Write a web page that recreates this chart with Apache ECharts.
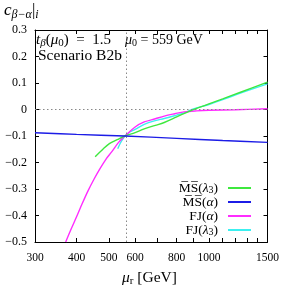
<!DOCTYPE html>
<html><head><meta charset="utf-8">
<script src="https://cdn.jsdelivr.net/npm/echarts@6/dist/echarts.min.js"></script>
<style>html,body{margin:0;padding:0;background:#fff}#c{width:282px;height:289px}</style>
</head><body><div id="c"></div>
<script>
// ---- data ----
const xTickValues = [300,400,500,600,700,800,900,1000,1100,1200,1300,1400,1500];
const xLabelValues = [300,400,500,600,800,1000,1500];
const xMin = 300, xMax = 1500;
const yMin = -0.5, yMax = 0.3, yStep = 0.1;
const mu0 = 559;

const muMSl3 = [455,480,502,530,559,600,639,690,734,800,883,1000,1100,1250,1500];
const cMSl3  = [-0.178,-0.150,-0.129,-0.114,-0.100,-0.087,-0.073,-0.060,-0.049,-0.028,-0.004,0.021,0.040,0.066,0.103];

const muMSa = [300,400,559,800,1100,1500];
const cMSa  = [-0.088,-0.094,-0.100,-0.109,-0.117,-0.124];

const muFJa = [371,385,400,416,433,450,469,490,510,535,559,600,639,690,734,790,842,920,1000,1200,1500];
const cFJa  = [-0.500,-0.452,-0.405,-0.355,-0.307,-0.266,-0.226,-0.188,-0.160,-0.124,-0.100,-0.066,-0.047,-0.035,-0.025,-0.016,-0.009,-0.005,-0.003,-0.001,0.003];

const muFJl3 = [532,540,548,559,580,600,639,690,734,800,842,889,1000,1100,1250,1500];
const cFJl3  = [-0.148,-0.130,-0.116,-0.100,-0.084,-0.075,-0.056,-0.042,-0.034,-0.021,-0.013,0.000,0.019,0.037,0.063,0.097];

// ---- helpers ----
// the x axis is logarithmic: the library's value scale is fed log10(mu)
const L = Math.log10;
const FONT = 'Liberation Serif';
const pairs = (xs, ys) => xs.map((x, i) => [L(x), ys[i]]);
function R(size, lh) {
  const base = {fontFamily: FONT, fontSize: size, lineHeight: lh, color: '#000', fill: '#000'};
  const sub = Math.round(size * 0.72);
  return {
    n: Object.assign({}, base),
    i: Object.assign({}, base, {fontStyle: 'italic'}),
    s: Object.assign({}, base, {fontSize: sub, lineHeight: Math.round(lh * 0.55), verticalAlign: 'bottom'}),
    si: Object.assign({}, base, {fontSize: sub, fontStyle: 'italic', lineHeight: Math.round(lh * 0.55), verticalAlign: 'bottom'})
  };
}
const legendNames = {
  'MSl3': '{n|M\u0305S\u0305(}{i|λ}{s|3}{n|)}',
  'MSa':  '{n|M\u0305S\u0305(}{i|α}{n|)}',
  'FJa':  '{n|FJ(}{i|α}{n|)}',
  'FJl3': '{n|FJ(}{i|λ}{s|3}{n|)}'
};
const colors = {MSl3: '#3ee83e', MSa: '#1c1ce6', FJa: '#ff2cff', FJl3: '#3cf0f0'};

const chart = echarts.init(document.getElementById('c'), null, {renderer: 'canvas'});
const tickStyle = {show: true, inside: true, length: 4, lineStyle: {color: '#000', width: 1}};
const axLine = {show: true, onZero: false, lineStyle: {color: '#000', width: 1}};
const labelFont = {fontFamily: FONT, fontSize: 12, color: '#000'};

function lineSeries(name, xs, ys, z) {
  return {
    name, type: 'line', data: pairs(xs, ys), showSymbol: false, symbol: 'none',
    smooth: 0.35, z, lineStyle: {color: colors[name], width: 1.4}, itemStyle: {color: colors[name]},
    clip: true, animation: false
  };
}

const xAxisBase = {type: 'value', min: L(xMin), max: L(xMax), splitLine: {show: false}, minorTick: {show: false},
  axisLine: axLine, axisTick: Object.assign({}, tickStyle, {customValues: xTickValues.map(L)})};

const option = {
  animation: false,
  grid: {left: 35, right: 13, top: 30, bottom: 47, containLabel: false},
  xAxis: [
    Object.assign({}, xAxisBase, {position: 'bottom',
      axisLabel: Object.assign({}, labelFont, {fontSize: 11.5, customValues: xLabelValues.map(L),
        interval: 0, hideOverlap: false, showMinLabel: true, showMaxLabel: true, margin: 10,
        formatter: v => String(Math.round(Math.pow(10, v)))})}),
    Object.assign({}, xAxisBase, {position: 'top', axisLabel: {show: false}})
  ],
  yAxis: [
    {type: 'value', min: yMin, max: yMax, interval: yStep, position: 'left',
     axisLine: axLine, splitLine: {show: false}, axisTick: tickStyle,
     axisLabel: Object.assign({}, labelFont, {margin: 8,
       formatter: v => { const r = Math.round(v * 10) / 10; return r === 0 ? '0' : r.toFixed(1).replace('-', '\u2212'); }})},
    {type: 'value', min: yMin, max: yMax, interval: yStep, position: 'right',
     axisLine: axLine, splitLine: {show: false}, axisTick: tickStyle, axisLabel: {show: false}}
  ],
  legend: {
    data: ['MSl3', 'MSa', 'FJa', 'FJl3'],
    orient: 'vertical', align: 'right', right: 31, top: 181, padding: 0,
    itemWidth: 23, itemHeight: 2, itemGap: 0, icon: 'rect',
    selectedMode: false,
    formatter: name => legendNames[name],
    textStyle: {rich: R(13.5, 14), padding: [0, 5, 0, 0]}
  },
  series: [
    Object.assign(lineSeries('FJl3', muFJl3, cFJl3, 2), {
      markLine: {silent: true, symbol: 'none', label: {show: false},
        lineStyle: {color: '#888', type: [1.5, 2.5], width: 1},
        data: [{xAxis: L(mu0)}, {yAxis: 0}]}
    }),
    lineSeries('FJa', muFJa, cFJa, 3),
    lineSeries('MSl3', muMSl3, cMSl3, 4),
    lineSeries('MSa', muMSa, cMSa, 5)
  ],
  graphic: [
    {type: 'text', left: 4, top: 2, style: {text: '{i|c}{si|β−α}{n||}{si|i}', rich: R(17, 20)}},
    {type: 'text', left: 36, top: 33, style: {text: '{i|t}{si|β}{n|(}{i|μ}{s|0}{n|)  =  1.5}', rich: R(15, 16)}},
    {type: 'text', left: 38, top: 48, style: {text: '{n|Scenario B2b}', rich: R(15.5, 15)}},
    {type: 'text', left: 125, top: 33, style: {text: '{i|μ}{s|0}{n| = 559 GeV}', rich: R(14, 16)}},
    {type: 'text', left: 122, top: 270, style: {text: '{i|μ}{s|r}{n| [GeV]}', rich: R(15.5, 18)}}
  ]
};
chart.setOption(option);
</script></body></html>
